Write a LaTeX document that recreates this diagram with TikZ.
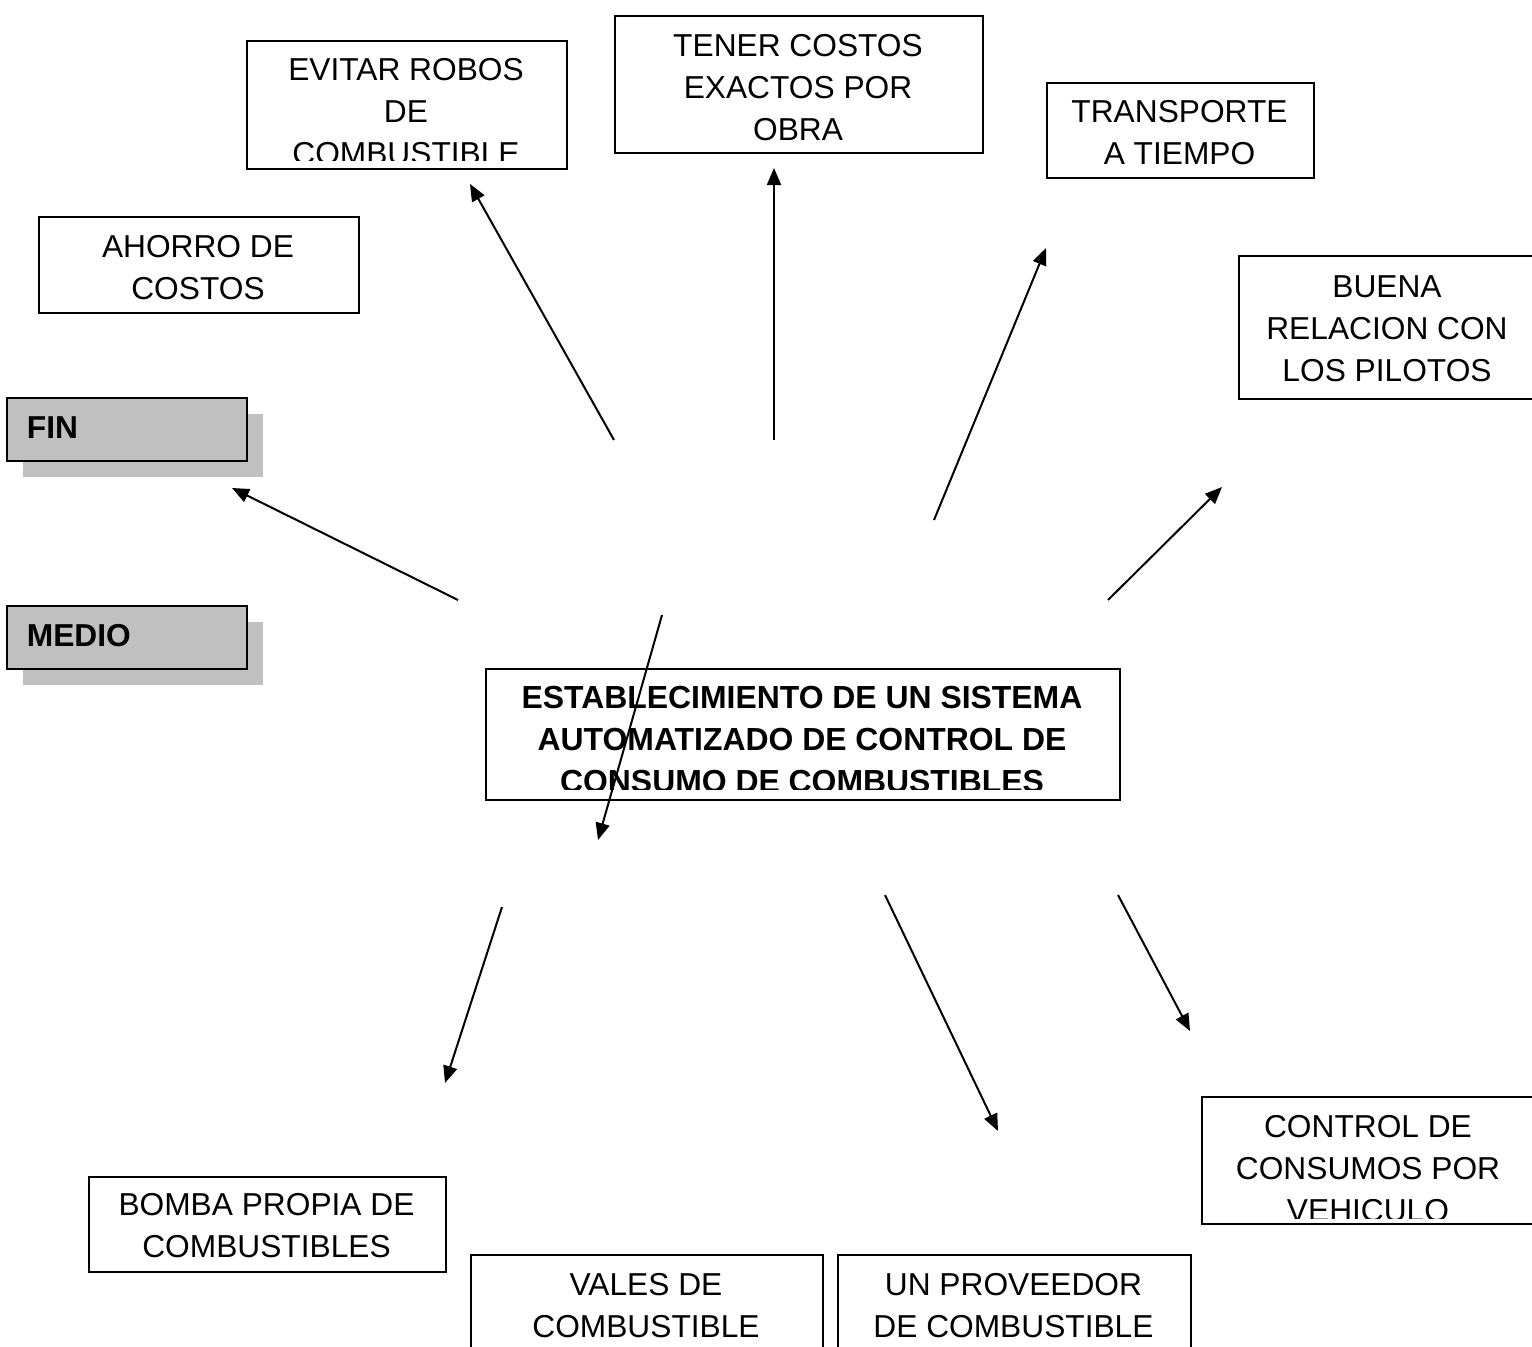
\documentclass[tikz,border=0pt]{standalone}
\usepackage{fontspec}
\setmainfont{Liberation Sans}
\usetikzlibrary{arrows.meta,shadows}
\definecolor{tagGray}{HTML}{C0C0C0}
\tikzset{
	box/.style={draw,line width=1.8pt,inner sep=0pt,anchor=north west},
	lbl/.style={align=center,anchor=base,inner sep=0pt,font=\fontsize{31.7}{42}\selectfont},
	tag/.style={draw,line width=1.8pt,fill=tagGray,anchor=north west,minimum height=63pt,text width=200pt,text depth=4pt,inner xsep=20pt,inner ysep=0pt,align=left,font=\fontsize{31.7}{42}\selectfont\bfseries,general shadow={fill=tagGray,shadow xshift=16pt,shadow yshift=-16pt}},
	arr/.style={line width=2pt,-{Triangle[length=17pt,width=14pt]}},
}
\begin{document}
\begin{tikzpicture}[x=1pt,y=-1pt]
					\useasboundingbox (0,0) rectangle (1532,1347);
					\clip (0,0) rectangle (1532,1347);
					% fines
					\node[box,minimum width=320pt,minimum height=128pt] (robos) at (246,40) {};
					\begin{scope}
						\clip (robos.north west) rectangle ([yshift=9pt]robos.south east);
						\node[lbl] (robos-t) at (406,164) {EVITAR ROBOS\\DE\\COMBUSTIBLE};
					\end{scope}
					\node[box,minimum width=368pt,minimum height=137pt] (obra) at (614,15) {};
					\node[lbl] (obra-t) at (798,140) {TENER COSTOS\\EXACTOS POR\\OBRA};
					\node[box,minimum width=267pt,minimum height=95pt] (tiempo) at (1046,82) {};
					\node[lbl] (tiempo-t) at (1179.5,164) {TRANSPORTE\\A TIEMPO};
					\node[box,minimum width=300pt,minimum height=143pt] (pilotos) at (1238,255) {};
					\node[lbl] (pilotos-t) at (1387,381) {BUENA\\RELACION CON\\LOS PILOTOS};
					\node[box,minimum width=320pt,minimum height=96pt] (ahorro) at (38,216) {};
					\node[lbl] (ahorro-t) at (198,299) {AHORRO DE\\COSTOS};
					% etiquetas
					\node[tag] (fin) at (6,397) {FIN};
					\node[tag] (medio) at (6,605) {MEDIO};
					% proposito
					\node[box,minimum width=634pt,minimum height=131pt] (sistema) at (485,668) {};
					\begin{scope}
						\clip (sistema.north west) rectangle ([yshift=11pt]sistema.south east);
						\node[lbl,font=\fontsize{31.9}{42}\selectfont\bfseries] (sistema-t) at (802,792) {ESTABLECIMIENTO DE UN SISTEMA\\AUTOMATIZADO DE CONTROL DE\\CONSUMO DE COMBUSTIBLES};
					\end{scope}
					% medios
					\node[box,minimum width=357pt,minimum height=95pt] (bomba) at (88,1176) {};
					\node[lbl] (bomba-t) at (266.5,1257) {BOMBA PROPIA DE\\COMBUSTIBLES};
					\node[box,minimum width=352pt,minimum height=120pt] (vales) at (470,1254) {};
					\node[lbl] (vales-t) at (646,1337) {VALES DE\\COMBUSTIBLE};
					\node[box,minimum width=353pt,minimum height=120pt] (proveedor) at (837,1254) {};
					\node[lbl] (proveedor-t) at (1013.5,1337) {UN PROVEEDOR\\DE COMBUSTIBLE};
					\node[box,minimum width=336pt,minimum height=127pt] (vehiculo) at (1201,1096) {};
					\begin{scope}
						\clip (vehiculo.north west) rectangle ([yshift=6pt]vehiculo.south east);
						\node[lbl] (vehiculo-t) at (1368,1221) {CONTROL DE\\CONSUMOS POR\\VEHICULO};
					\end{scope}
					% flechas
					\coordinate (r1) at (614,440); \coordinate (r2) at (470,184);
					\coordinate (o1) at (774,440); \coordinate (o2) at (774,168);
					\coordinate (t1) at (934,520); \coordinate (t2) at (1046,248);
					\coordinate (p1) at (1108,600); \coordinate (p2) at (1222,487);
					\coordinate (f1) at (458,600); \coordinate (f2) at (232,488);
					\coordinate (s1) at (662,615); \coordinate (s2) at (598,840);
					\coordinate (b1) at (502,907); \coordinate (b2) at (445,1083);
					\coordinate (v1) at (885,895); \coordinate (v2) at (998,1131);
					\coordinate (c1) at (1118,895); \coordinate (c2) at (1190,1031);
					\draw[arr] (r1) -- (r2);
					\draw[arr] (o1) -- (o2);
					\draw[arr] (t1) -- (t2);
					\draw[arr] (p1) -- (p2);
					\draw[arr] (f1) -- (f2);
					\draw[arr] (s1) -- (s2);
					\draw[arr] (b1) -- (b2);
					\draw[arr] (v1) -- (v2);
					\draw[arr] (c1) -- (c2);
\end{tikzpicture}
\end{document}
